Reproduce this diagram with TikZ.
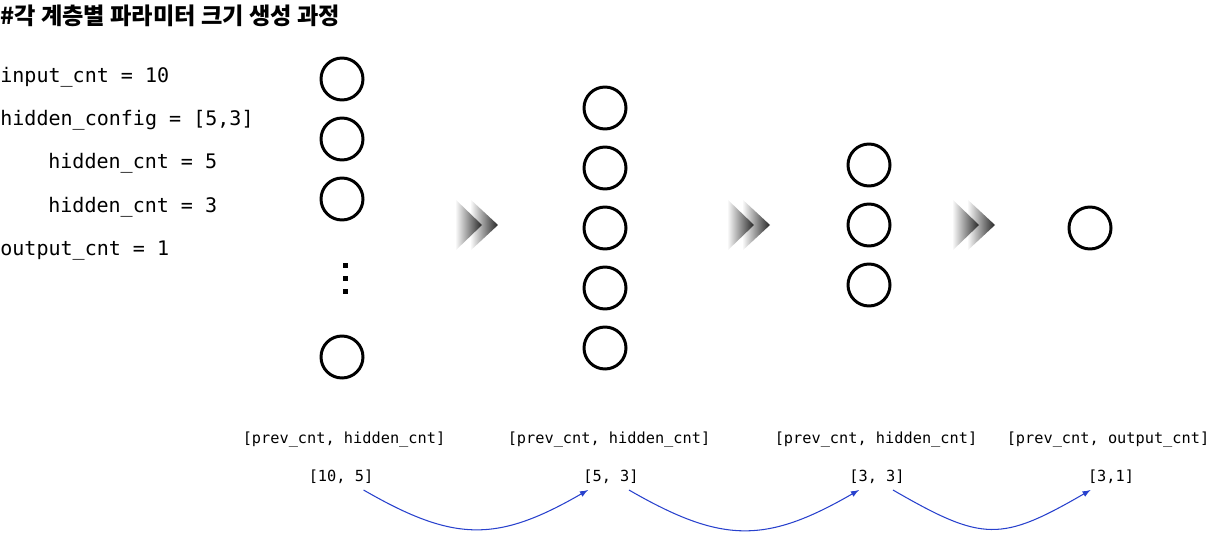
\documentclass[tikz,border=0pt]{standalone}
\usepackage{fontspec}
\setmonofont{DejaVu Sans Mono}
\newfontfamily\cjk{Noto Sans CJK KR}
\usetikzlibrary{positioning,calc,arrows}
\definecolor{flowblue}{RGB}{40,65,205}
\tikzset{>=latex}
\tikzset{
  neuron/.style={circle, draw, line width=1.7pt, minimum size=0.84cm, inner sep=0pt},
  cfg/.style={anchor=base west, inner sep=0pt, font=\ttfamily\fontsize{11.4}{13}\selectfont},
  shapelbl/.style={anchor=base, inner sep=0pt, font=\ttfamily\fontsize{8.7}{10}\selectfont},
  flow/.style={->, flowblue, semithick, out=-30, in=210, looseness=1.2},
  dotbox/.style={fill, minimum size=0.1cm, inner sep=0pt}
}
% double chevron between two layers
\newcommand{\dblchev}[1]{%
  \begin{scope}[shift={(#1,225)}]
    \shade[left color=white, right color=black!85] (15,-26) -- (43,0) -- (15,26) -- cycle;
    \shade[left color=white, right color=black!85] (0,-26) -- (27,0) -- (0,26) -- cycle;
  \end{scope}}

\begin{document}
\begin{tikzpicture}[x=0.02cm, y=-0.02cm]
  \useasboundingbox (0,0) rectangle (1211,534);
  % title
  \node[anchor=west, inner sep=0pt, font=\cjk\bfseries\fontsize{13.2}{15}\selectfont] (title) at (0,16) {\#각 계층별 파라미터 크기 생성 과정};
  % config lines
  \node[cfg] (cfgIn) at (0,82) {input\_cnt = 10};
  \node[cfg] (cfgHid) at (0,125) {hidden\_config = [5,3]};
  \node[cfg] (cfgH1) at (48,168) {hidden\_cnt = 5};
  \node[cfg] (cfgH2) at (48,212) {hidden\_cnt = 3};
  \node[cfg] (cfgOut) at (0,255) {output\_cnt = 1};
  % input layer
  \foreach \i in {0,1,2}
    \node[neuron] (in\i) at (342,79+60*\i) {};
  \node[neuron] (in3) at (342,357) {};
  \foreach \i in {0,1,2}
    \node[dotbox] (dot\i) at (345,265+13*\i) {};
  % hidden layer 1
  \foreach \i in {0,...,4}
    \node[neuron] (hA\i) at (605,108+60*\i) {};
  % hidden layer 2
  \foreach \i in {0,1,2}
    \node[neuron] (hB\i) at (869,165+60*\i) {};
  % output layer
  \node[neuron] (out0) at (1090,228) {};
  % chevrons
  \dblchev{455}
  \dblchev{727}
  \dblchev{952}
  % shape labels
  \node[shapelbl] (lbl1) at (344,443) {[prev\_cnt, hidden\_cnt]};
  \node[shapelbl] (lbl2) at (609,443) {[prev\_cnt, hidden\_cnt]};
  \node[shapelbl] (lbl3) at (876,443) {[prev\_cnt, hidden\_cnt]};
  \node[shapelbl] (lbl4) at (1108,443) {[prev\_cnt, output\_cnt]};
  \node[shapelbl] (val1) at (341,481) {[10, 5]};
  \node[shapelbl] (val2) at (611,481) {[5, 3]};
  \node[shapelbl] (val3) at (877,481) {[3, 3]};
  \node[shapelbl] (val4) at (1111,481) {[3,1]};
  % passing sizes
  \draw[flow] ([shift={(-0.2cm,-0.18cm)}]val1.base east) to ([shift={(0.1cm,-0.18cm)}]val2.base west);
  \draw[flow] ([shift={(-0.2cm,-0.18cm)}]val2.base east) to ([shift={(0.2cm,-0.18cm)}]val3.base west);
  \draw[flow, looseness=1.35] ([shift={(-0.24cm,-0.18cm)}]val3.base east) to ([shift={(0.06cm,-0.18cm)}]val4.base west);
\end{tikzpicture}
\end{document}
